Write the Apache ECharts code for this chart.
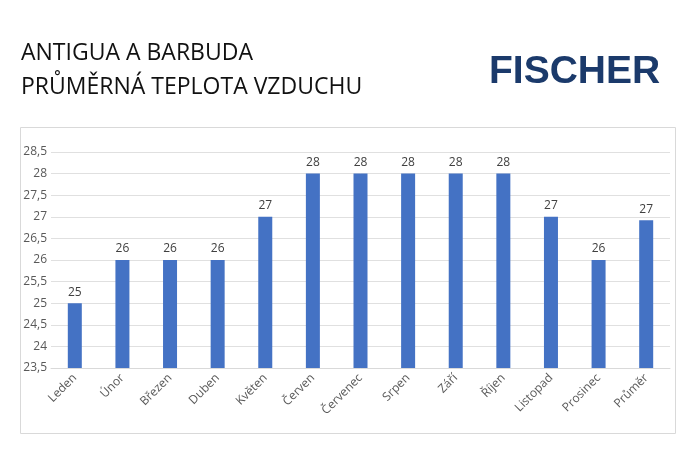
<html>
<head>
<meta charset="utf-8" />
<script src="https://cdn.jsdelivr.net/npm/echarts@6/dist/echarts.min.js"></script>
<style>
html, body, #main { width: 100%; height: 100%; margin: 0; background: #fff; }
</style>
</head>
<body>
<div id="main"></div>
<script>
var chart = echarts.init(document.getElementById('main'));

var months = ['Leden', 'Únor', 'Březen', 'Duben', 'Květen', 'Červen', 'Červenec', 'Srpen', 'Září', 'Říjen', 'Listopad', 'Prosinec', 'Průměr'];
var temps = [25, 26, 26, 26, 27, 28, 28, 28, 28, 28, 27, 26, 26.92];

var option = {
  graphic: [
    { type: 'text', left: 21, top: 36, style: { text: 'ANTIGUA A BARBUDA\nPRŮMĚRNÁ TEPLOTA VZDUCHU', font: '23px "Open Sans", sans-serif', fill: '#111', lineHeight: 34 } },
    { type: 'text', left: 489, top: 53, style: { text: 'FISCHER', font: 'bold 39px "Liberation Sans", Arial, sans-serif', fill: '#1b3a6b' } },
    { type: 'rect', shape: { x: 20.5, y: 127.5, width: 655, height: 306 }, style: { fill: 'none', stroke: '#d9d9d9', lineWidth: 1 } }
  ],
  grid: { left: 51, right: 30, top: 152, bottom: 82 },
  xAxis: {
    type: 'category',
    data: months,
    axisTick: { show: false },
    axisLine: { lineStyle: { color: '#d9d9d9' } },
    axisLabel: { rotate: 45, color: '#595959', fontSize: 12, fontFamily: 'Open Sans', margin: 8 }
  },
  yAxis: {
    type: 'value',
    min: 23.5, max: 28.5, interval: 0.5,
    axisLine: { show: false },
    axisTick: { show: false },
    splitLine: { lineStyle: { color: '#e0e0e0' } },
    axisLabel: { color: '#595959', fontSize: 12, fontFamily: 'Open Sans', margin: 4,
      formatter: function (v) { return String(v).replace('.', ','); } }
  },
  series: [{
    type: 'bar',
    data: temps,
    barWidth: 14,
    itemStyle: { color: '#4472c4' },
    label: { show: true, position: 'top', color: '#404040', fontSize: 12, fontFamily: 'Open Sans',
      formatter: function (p) { return Math.round(p.value); } }
  }]
};
chart.setOption(option);
window.onresize = function () { chart.resize(); };
</script>
</body>
</html>
